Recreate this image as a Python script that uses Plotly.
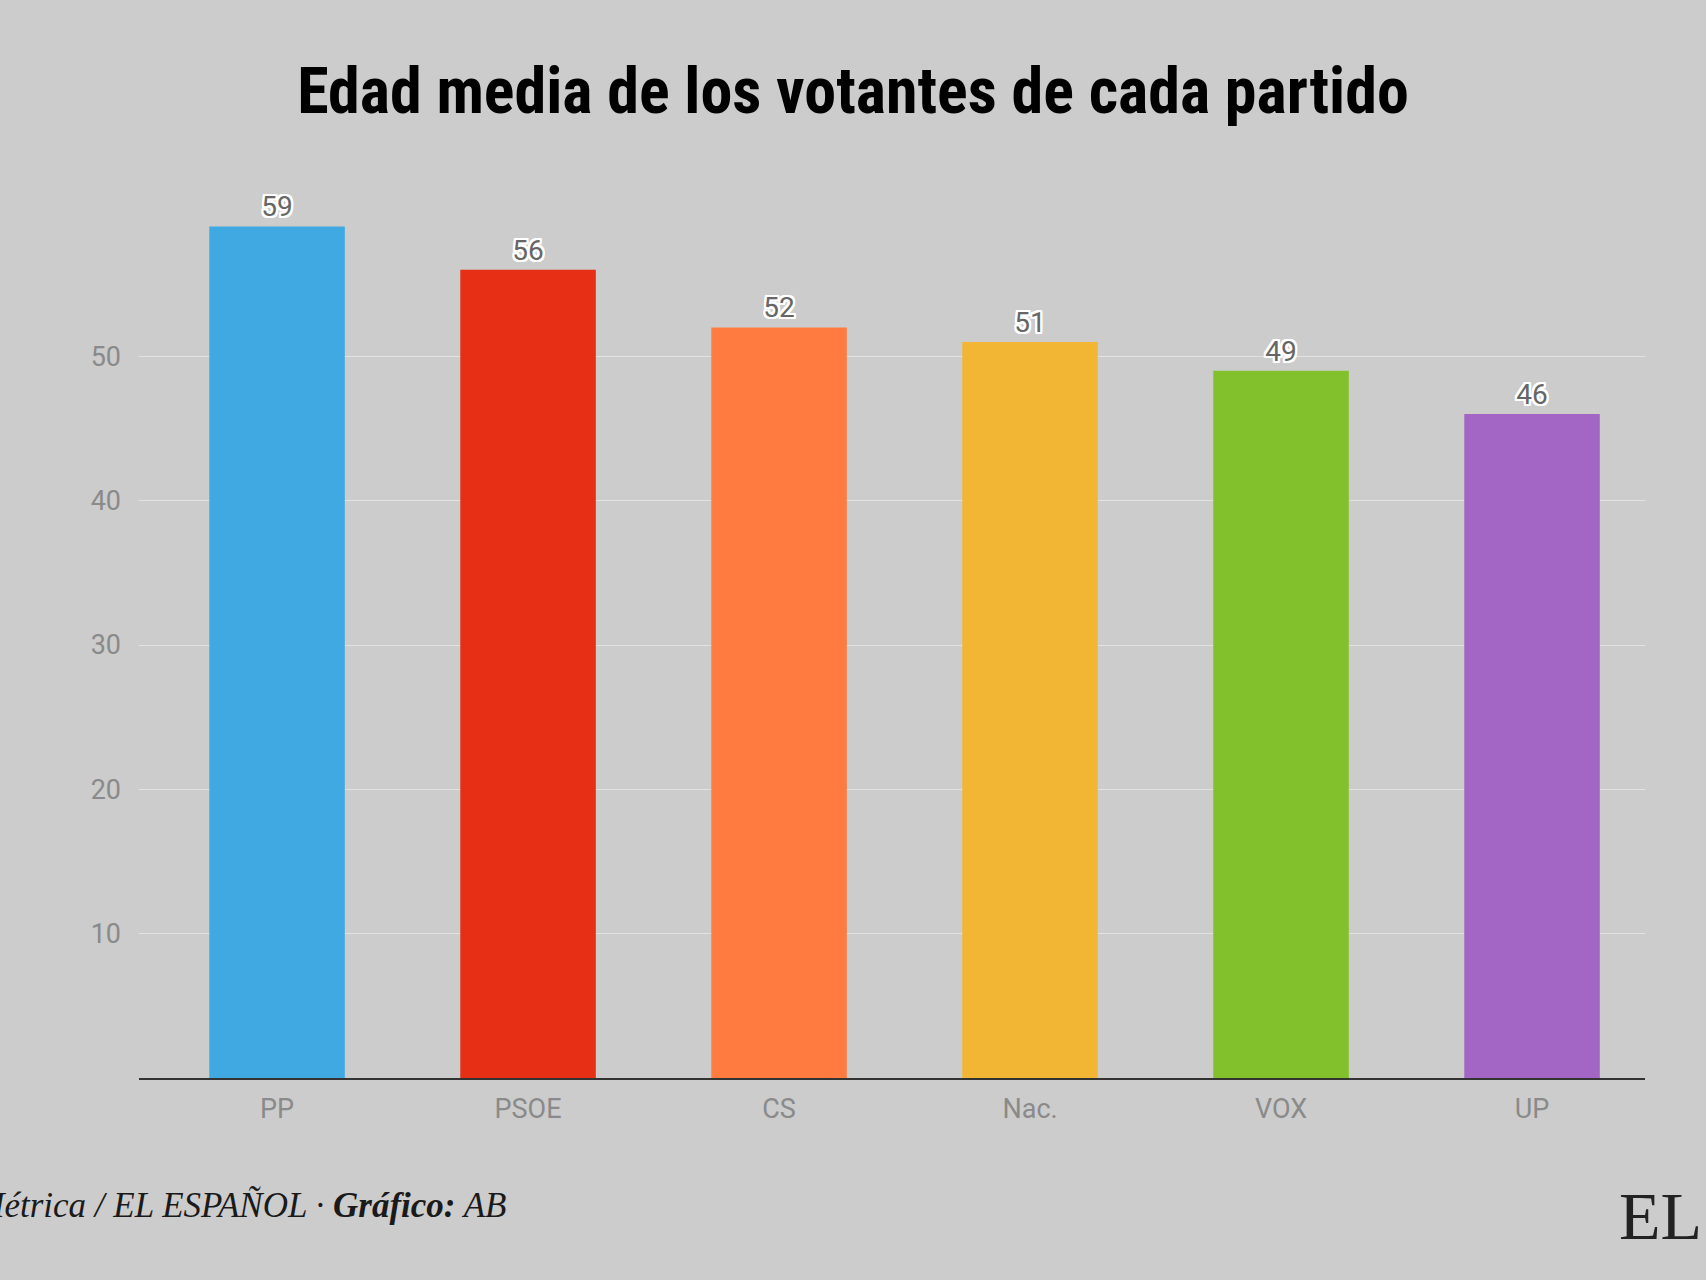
import plotly.graph_objects as go

partidos = ["PP", "PSOE", "CS", "Nac.", "VOX", "UP"]
edad_media = [59, 56, 52, 51, 49, 46]
colores = ["#41a9e1", "#e72f15", "#ff7b40", "#f2b634", "#82c12c", "#a466c4"]
y_ticks = [10, 20, 30, 40, 50]

titulo = "Edad media de los votantes de cada partido"
fuente = "<b><i>Fuente:</i></b><i> SocioMétrica / EL ESPAÑOL · </i><b><i>Gráfico:</i></b><i> AB</i>"

W, H = 1706, 1280
m_l, m_r, m_t, m_b = 139, 61, 170, 202
plot_w = W - m_l - m_r
plot_h = H - m_t - m_b
y_max = 60 * plot_h / 866.0

halo = ",".join(f"{dx}px {dy}px 0px white" for dx in (-2, -1, 0, 1, 2) for dy in (-2, -1, 0, 1, 2) if (dx, dy) != (0, 0))

fig = go.Figure(go.Bar(
    x=partidos,
    y=edad_media,
    marker=dict(color=colores, line=dict(width=0)),
    text=[str(v) for v in edad_media],
    textposition="outside",
    textfont=dict(family="Roboto", size=28, color="#666666", shadow=halo),
    cliponaxis=False,
    width=0.54,
))

fig.update_layout(
    width=W, height=H,
    paper_bgcolor="#cccccc",
    plot_bgcolor="#cccccc",
    margin=dict(l=m_l, r=m_r, t=m_t, b=m_b),
    showlegend=False,
    title=dict(
        text=f"<b>{titulo}</b>",
        x=0.5, xanchor="center",
        y=1 - 91 / H, yanchor="middle", yref="container",
        font=dict(family="Roboto Condensed, Liberation Sans Narrow, DejaVu Sans Condensed, Roboto", size=64, color="#000000"),
    ),
    xaxis=dict(
        showgrid=False,
        showline=True, linecolor="#333333", linewidth=2,
        ticks="", tickfont=dict(family="Roboto", size=27, color="#8a8a8a"),
        ticklabelstandoff=6,
        range=[-0.55, 5.45],
    ),
    yaxis=dict(
        range=[0, y_max],
        tickvals=y_ticks,
        showgrid=True, gridcolor="#e2e2e2", gridwidth=1,
        zeroline=False, showline=False, ticks="",
        tickfont=dict(family="Roboto", size=27, color="#8a8a8a"),
        ticklabelstandoff=17,
    ),
    annotations=[
        dict(
            text=fuente, xref="paper", yref="paper",
            x=(508 - m_l) / plot_w, xanchor="right",
            y=-(1205 - (H - m_b)) / plot_h, yanchor="middle",
            showarrow=False,
            font=dict(family="Liberation Serif, DejaVu Serif", size=35, color="#1a1a1a"),
        ),
        dict(
            text="EL", xref="paper", yref="paper",
            x=(1704 - m_l) / plot_w, xanchor="right",
            y=-(1216 - (H - m_b)) / plot_h, yanchor="middle",
            showarrow=False,
            font=dict(family="Liberation Serif, DejaVu Serif", size=68, color="#222222"),
        ),
    ],
)

fig.write_html("out.html")
